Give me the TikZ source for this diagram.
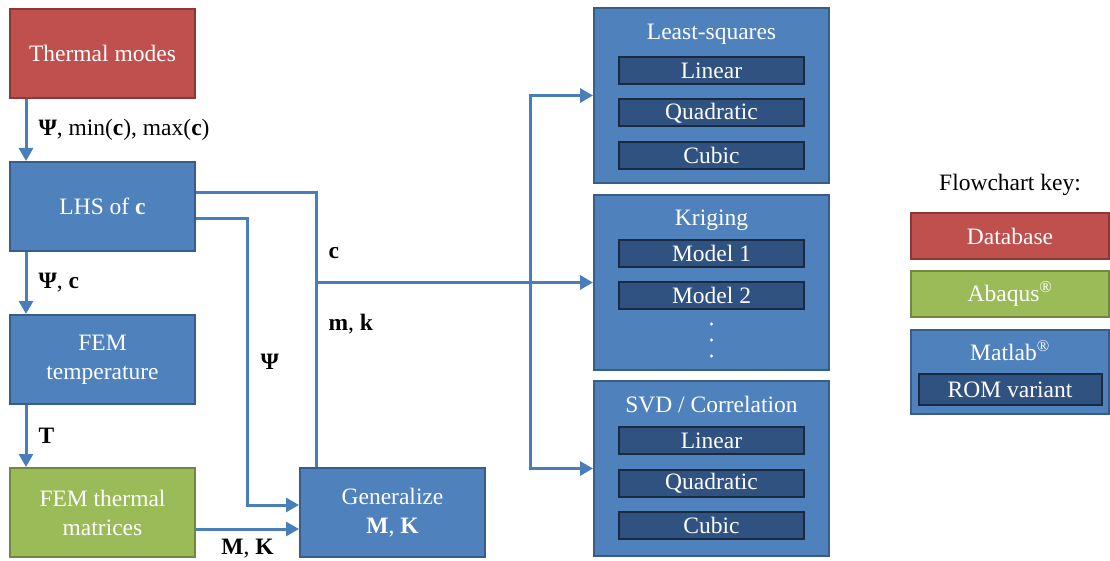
\documentclass[tikz,border=0pt]{standalone}
\usepackage{fontspec}
\setmainfont{Liberation Serif}
\usepackage{tikz}
\usetikzlibrary{positioning,arrows.meta}
\definecolor{dbred}{HTML}{C0504D}
\definecolor{dbredline}{HTML}{8C3836}
\definecolor{abqgreen}{HTML}{9BBB59}
\definecolor{abqgreenline}{HTML}{71893F}
\definecolor{matblue}{HTML}{4F81BD}
\definecolor{matblueline}{HTML}{385D8A}
\definecolor{romblue}{HTML}{2F5281}
\definecolor{romline}{HTML}{1A2A40}
\definecolor{linkblue}{HTML}{4A7EBB}

\begin{document}
\begin{tikzpicture}[x = 1pt, y = -1pt, >= {Triangle[length=13pt, width=14pt]}, node distance = 153pt, on grid,
	every node/.style = {font = \fontsize{23.5}{29}\selectfont},
	box/.style = {draw, line width = 2pt, minimum width = 185pt, minimum height = 89pt, text = white, align = center, inner sep = 0pt},
	dbbox/.style = {box, fill = dbred, draw = dbredline},
	abqbox/.style = {box, fill = abqgreen, draw = abqgreenline},
	matbox/.style = {box, fill = matblue, draw = matblueline},
	groupbox/.style = {matbox, minimum width = 235pt, minimum height = 175pt},
	keybox/.style = {minimum width = 198pt, minimum height = 46pt},
	title/.style = {text = white, inner sep = 0pt},
	rombox/.style = {draw = romline, fill = romblue, line width = 2pt, minimum width = 185pt, minimum height = 27pt, text = white, inner sep = 0pt},
	link/.style = {draw = linkblue, line width = 3pt},
	lbl/.style = {anchor = west, inner sep = 0pt, text = black}]
	\useasboundingbox (0,0) rectangle (1110,561);
	% left column
	\node[dbbox] (modes) at (102.5,53.5) {Thermal modes};
	\node[matbox] (lhs) [below = of modes] {LHS of \textbf{c}};
	\node[matbox] (femt) [below = of lhs] {FEM\\temperature};
	\node[abqbox] (femk) [below = of femt] {FEM thermal\\matrices};
	\node[matbox] (gen) [right = 290pt of femk] {Generalize\\\textbf{M}, \textbf{K}};
	% ROM variants
	\node[groupbox] (lsq) at (711.5,95.5) {};
	\node[groupbox] (krig) [below = 187pt of lsq] {};
	\node[groupbox] (svd) [below = 186pt of krig] {};
	\node[title] (lsqt) [below = 17pt of lsq.north] {Least-squares};
	\node[rombox] (lsq1) at (711.5,70.5) {Linear};
	\node[rombox] (lsq2) [below = 42.5pt of lsq1] {Quadratic};
	\node[rombox] (lsq3) [below = 42.5pt of lsq2] {Cubic};
	\node[title] (krigt) [below = 16pt of krig.north] {Kriging};
	\node[rombox] (krig1) at (711.5,253.5) {Model 1};
	\node[rombox] (krig2) [below = 42pt of krig1] {Model 2};
	\foreach \dy in {324,340,356}
		\fill[white] (711.5,\dy) circle (1.6pt);
	\node[title] (svdt) [below = 16pt of svd.north] {SVD / Correlation};
	\node[rombox] (svd1) at (711.5,440.5) {Linear};
	\node[rombox] (svd2) [below = 42.5pt of svd1] {Quadratic};
	\node[rombox] (svd3) [below = 42.5pt of svd2] {Cubic};
	% key
	\node[text = black] (keyt) at (1010,185) {Flowchart key:};
	\node[dbbox, keybox] (kdb) at (1010,236) {Database};
	\node[abqbox, keybox] (kabq) at (1010,294) {Abaqus\textsuperscript{®}};
	\node[matbox, keybox, minimum height = 84pt] (kmat) at (1010,372) {};
	\node[title] (kmatt) at (1010,351) {Matlab\textsuperscript{®}};
	\node[rombox, minimum width = 183pt, minimum height = 31pt] (krom) at (1010,389.5) {ROM variant};
	% connectors
	\path ([xshift = 17pt]modes.south west) edge[link, ->] node[lbl, xshift = 11pt] {\textbf{Ψ}, min(\textbf{c}), max(\textbf{c})} ([xshift = 17pt]lhs.north west);
	\path ([xshift = 17pt]lhs.south west) edge[link, ->] node[lbl, xshift = 11pt] {\textbf{Ψ}, \textbf{c}} ([xshift = 17pt]femt.north west);
	\path ([xshift = 17pt]femt.south west) edge[link, ->] node[lbl, xshift = 11pt] {\textbf{T}} ([xshift = 17pt]femk.north west);
	\path ([yshift = -16.5pt]femk.east) edge[link, ->] node[text = black, inner sep = 0pt, yshift = -20pt] {\textbf{M}, \textbf{K}} ([yshift = -16.5pt]gen.west);
	\draw[link, ->] ([yshift = -12pt]lhs.east) -| ([xshift = -52pt, yshift = 7.5pt]gen.west) node[lbl, pos = 0.75, xshift = 12pt] {\textbf{Ψ}} -- ([yshift = 7.5pt]gen.west);
	\draw[link] ([yshift = 14pt]lhs.east) -| ([xshift = -76.5pt]gen.north) node[lbl, pos = 0.61, xshift = 11pt] {\textbf{c}} node[lbl, pos = 0.74, xshift = 11pt] {\textbf{m}, \textbf{k}};
	\coordinate (cjoin) at ([xshift = -76.5pt]gen.north |- krig.west);
	\coordinate (csplit) at ([xshift = -63pt]krig.west);
	\draw[link, ->] (cjoin) -- (krig.west);
	\draw[link, ->] (csplit) |- (lsq.west);
	\draw[link, ->] (csplit) |- (svd.west);
\end{tikzpicture}
\end{document}
